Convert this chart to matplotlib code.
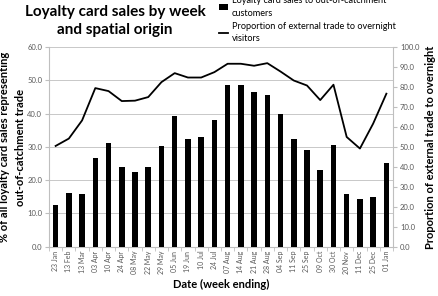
import matplotlib

matplotlib.use("Agg")
import matplotlib.pyplot as plt
import numpy as np

weeks = ["23 Jan", "13 Feb", "13 Mar", "03 Apr", "10 Apr", "24 Apr", "08 May",
         "22 May", "29 May", "05 Jun", "19 Jun", "10 Jul", "24 Jul", "07 Aug",
         "14 Aug", "21 Aug", "28 Aug", "04 Sep", "11 Sep", "25 Sep", "09 Oct",
         "30 Oct", "20 Nov", "11 Dec", "25 Dec", "01 Jan"]
loyalty_sales = [12.5, 16.2, 15.8, 26.8, 31.3, 24.0, 22.5, 24.1, 30.4, 39.4,
                 32.5, 32.9, 38.1, 48.7, 48.7, 46.6, 45.6, 40.0, 32.3, 29.0,
                 23.0, 30.7, 15.7, 14.3, 14.9, 25.3]
overnight_share = [50.5, 54.2, 63.3, 79.5, 78.0, 73.0, 73.2, 75.0, 82.5, 87.0,
                   84.8, 84.8, 87.5, 91.7, 91.7, 90.7, 92.0, 87.8, 83.3, 80.8,
                   73.5, 81.2, 55.0, 49.2, 61.7, 76.7]

plt.rcParams["font.family"] = ["Lato", "DejaVu Sans"]
grey = "#595959"
x = np.arange(len(weeks))

fig = plt.figure(figsize=(4.39, 2.96), dpi=100)
ax = fig.add_axes([49 / 439, 1 - 246.7 / 296, 344 / 439, 199.5 / 296])
bars = ax.bar(x, loyalty_sales, width=0.42, color="black", zorder=3,
              label="Loyalty card sales to out-of-catchment\ncustomers")
ax.set_xlim(-0.5, len(weeks) - 0.5)
ax.set_ylim(0, 60)
ax.set_yticks(np.arange(0, 61, 10))
ax.set_yticklabels([f"{v:.1f}" for v in np.arange(0, 61, 10)])
ax.yaxis.grid(True, color="#c8c8c8", lw=0.7, zorder=0)
ax.set_xticks(x)
ax.set_xticklabels(weeks, rotation=90, fontsize=5)
ax.set_xticks(np.arange(-0.5, len(weeks)), minor=True)
ax.tick_params(axis="x", which="major", length=0, pad=3, colors=grey)
ax.tick_params(axis="x", which="minor", length=3, color="#bfbfbf")
ax.tick_params(axis="y", length=3, color="#bfbfbf", labelsize=5.5, labelcolor=grey, pad=2)
for side in ["top", "right"]:
    ax.spines[side].set_visible(False)
for side in ["left", "bottom"]:
    ax.spines[side].set_color("#bfbfbf")
    ax.spines[side].set_linewidth(0.8)
ax.set_xlabel("Date (week ending)", fontsize=8, fontweight="bold", labelpad=3)
ax.set_ylabel("% of all loyalty card sales representing\nout-of-catchment trade",
              fontsize=8, fontweight="bold", labelpad=1, linespacing=1.55)

ax2 = ax.twinx()
line, = ax2.plot(x, overnight_share, color="black", lw=1.3,
                 label="Proportion of external trade to overnight\nvisitors")
ax2.set_ylim(0, 100)
ax2.set_yticks(np.arange(0, 101, 10))
ax2.set_yticklabels([f"{v:.1f}" for v in np.arange(0, 101, 10)])
ax2.tick_params(axis="y", length=3, color="#bfbfbf", labelsize=5.5, labelcolor=grey, pad=2)
for side in ["top", "left", "bottom"]:
    ax2.spines[side].set_visible(False)
ax2.spines["right"].set_color("#bfbfbf")
ax2.spines["right"].set_linewidth(0.8)
ax2.set_ylabel("Proportion of external trade to overnight\nvisitors (%)",
               fontsize=8, fontweight="bold", labelpad=4, linespacing=1.55)

fig.text(115 / 439, 1 - 21 / 296, "Loyalty card sales by week\nand spatial origin",
         ha="center", va="center", fontsize=11, fontweight="bold", linespacing=1.3)

leg = fig.legend([bars, line], [bars.get_label(), line.get_label()],
                 loc="upper left", bbox_to_anchor=(219 / 439, 1 + 4 / 296),
                 frameon=False, fontsize=6.6, handlelength=1.0, handleheight=0.6,
                 handletextpad=0.4, labelspacing=0.4, borderaxespad=0, borderpad=0)
for t in leg.get_texts():
    t.set_linespacing(1.55)

fig.savefig("out.png", dpi=100)
